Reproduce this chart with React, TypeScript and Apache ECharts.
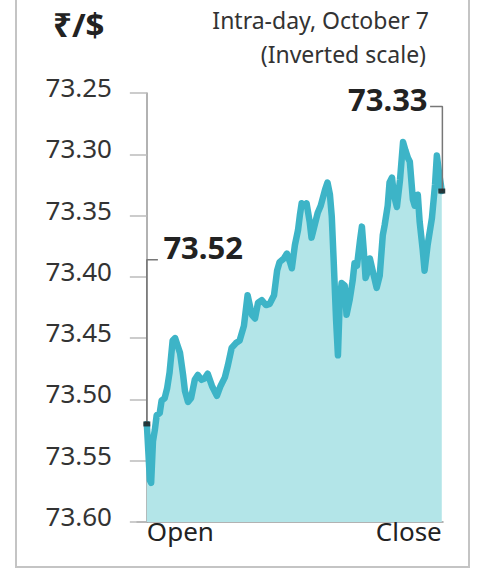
import React, { useEffect, useRef } from "react";
import * as echarts from "echarts";

const titleText = "₹/$";
const subtitleLines = ["Intra-day, October 7", "(Inverted scale)"];
const yTicks = [73.25, 73.3, 73.35, 73.4, 73.45, 73.5, 73.55, 73.6];
const xLabels = ["Open", "Close"];
const openValue = 73.52;
const closeValue = 73.33;

// minutes after market open
const minutes = [
  0, 5, 7, 10, 13, 16, 21, 24, 29, 33, 37, 42, 46, 50, 54, 59, 62, 67, 72, 78,
  83, 89, 94, 99, 106, 114, 120, 127, 132, 138, 145, 151, 158, 164, 171, 176,
  181, 187, 194, 200, 207, 212, 216, 223, 228, 233, 236, 241, 246, 249, 252,
  257, 260, 265, 268, 273, 278, 283, 290, 294, 298, 301, 304, 308, 311, 314,
  317, 322, 325, 330, 335, 338, 342, 347, 350, 353, 356, 360, 363, 368, 374,
  379, 384, 387, 392, 395, 399, 402, 407, 412, 417, 421, 425, 428, 433, 436,
  441, 444, 449, 452, 457, 464, 469, 472, 475, 480,
];

// rupees per dollar
const rates = [
  73.52, 73.566, 73.568, 73.534, 73.525, 73.513, 73.511, 73.501, 73.499, 73.491,
  73.478, 73.452, 73.45, 73.456, 73.462, 73.48, 73.493, 73.502, 73.499, 73.484,
  73.48, 73.484, 73.483, 73.479, 73.489, 73.497, 73.489, 73.482, 73.472, 73.458,
  73.454, 73.452, 73.44, 73.415, 73.431, 73.434, 73.421, 73.419, 73.423, 73.422,
  73.415, 73.395, 73.388, 73.385, 73.381, 73.388, 73.393, 73.374, 73.362, 73.35,
  73.34, 73.342, 73.34, 73.355, 73.368, 73.358, 73.348, 73.342, 73.329, 73.323,
  73.333, 73.351, 73.386, 73.435, 73.464, 73.419, 73.405, 73.407, 73.431, 73.419,
  73.403, 73.389, 73.391, 73.37, 73.359, 73.378, 73.401, 73.395, 73.385, 73.396,
  73.409, 73.399, 73.366, 73.358, 73.342, 73.323, 73.319, 73.333, 73.343, 73.321,
  73.29, 73.297, 73.303, 73.306, 73.337, 73.342, 73.333, 73.355, 73.378, 73.395,
  73.374, 73.352, 73.325, 73.301, 73.313, 73.33,
];

// annotation leader anchors (minute, rate)
const openLeader = [
  [0, openValue],
  [0, 73.386],
  [18, 73.386],
];
const closeLeader = [
  [481, closeValue],
  [481, 73.261],
  [461, 73.261],
];

const FONT = "Noto Sans";

export default function App() {
  const ref = useRef<HTMLDivElement>(null);

  useEffect(() => {
    if (!ref.current) return;
    const chart = echarts.init(ref.current, null, { renderer: "svg" });
    const seriesData = minutes.map((m, i) => [m, rates[i]]);
    const leaderSeries = (pts: number[][], text: string, side: "left" | "right", off: number) => ({
      type: "line",
      data: pts,
      symbol: "none",
      lineStyle: { color: "#777", width: 1.5 },
      z: 3,
      markPoint: {
        silent: true,
        symbol: "circle",
        symbolSize: 1,
        itemStyle: { color: "rgba(0,0,0,0)" },
        data: [
          {
            coord: pts[pts.length - 1],
            label: {
              show: true,
              position: side,
              distance: side === "right" ? 5 : 2,
              offset: [0, off],
              formatter: text,
              fontFamily: FONT,
              fontWeight: "bold",
              fontSize: 31,
              color: "#222",
            },
          },
        ],
      },
    });

    chart.setOption({
      animation: false,
      backgroundColor: "#fff",
      title: [
        {
          text: titleText,
          left: 53,
          top: 4,
          padding: 0,
          textStyle: { fontFamily: FONT, fontWeight: "bold", fontSize: 33, lineHeight: 40, color: "#222" },
        },
        {
          text: subtitleLines[0],
          right: 53,
          top: 8,
          padding: 0,
          textStyle: { fontFamily: FONT, fontWeight: "normal", fontSize: 23, color: "#333" },
        },
        {
          text: subtitleLines[1],
          right: 56,
          top: 42,
          padding: 0,
          textStyle: { fontFamily: FONT, fontWeight: "normal", fontSize: 23, color: "#333" },
        },
      ],
      graphic: [
        {
          type: "rect",
          shape: { x: 16, y: -10, width: 453, height: 577 },
          style: { fill: "none", stroke: "#c4c4c4", lineWidth: 2 },
          silent: true,
        },
      ],
      grid: { left: 137, right: 39, top: 93, bottom: 52 },
      xAxis: {
        type: "value",
        min: -16,
        max: 482,
        splitLine: { show: false },
        axisTick: { show: false },
        axisLine: { show: true, lineStyle: { color: "#999", width: 1.5 } },
        axisLabel: {
          customValues: [0, 480],
          formatter: (v: number) => (v === 0 ? xLabels[0] : xLabels[1]),
          alignMinLabel: "left",
          alignMaxLabel: "right",
          margin: -3,
          lineHeight: 24,
          fontFamily: FONT,
          fontSize: 26,
          color: "#222",
        },
      },
      yAxis: {
        type: "value",
        inverse: true,
        min: yTicks[0],
        max: yTicks[yTicks.length - 1],
        interval: 0.05,
        splitLine: { show: false },
        axisLine: { show: true, lineStyle: { color: "#999", width: 1.5 } },
        axisTick: { show: true, length: 17, lineStyle: { color: "#bbb", width: 1.5 } },
        axisLabel: {
          formatter: (v: number) => v.toFixed(2),
          margin: 25,
          verticalAlign: "bottom",
          lineHeight: 12,
          fontFamily: FONT,
          fontSize: 26,
          color: "#333",
        },
      },
      series: [
        {
          type: "line",
          data: seriesData,
          showSymbol: false,
          symbol: "none",
          lineStyle: { color: "#3db4c7", width: 6.5, join: "round", cap: "round" },
          areaStyle: { color: "#b3e5e8", opacity: 1, origin: "end" },
          z: 2,
        },
        leaderSeries(openLeader, openValue.toFixed(2), "right", -13),
        leaderSeries(closeLeader, closeValue.toFixed(2), "left", -7),
        {
          type: "scatter",
          data: [
            [0, openValue],
            [480, closeValue],
          ],
          symbol: "rect",
          symbolSize: [7, 5],
          itemStyle: { color: "#1a1a1a" },
          z: 4,
        },
      ],
    });
    return () => chart.dispose();
  }, []);

  return (
    <div
      ref={ref}
      style={{ position: "fixed", left: 0, top: 0, width: 482, height: 574 }}
    />
  );
}
